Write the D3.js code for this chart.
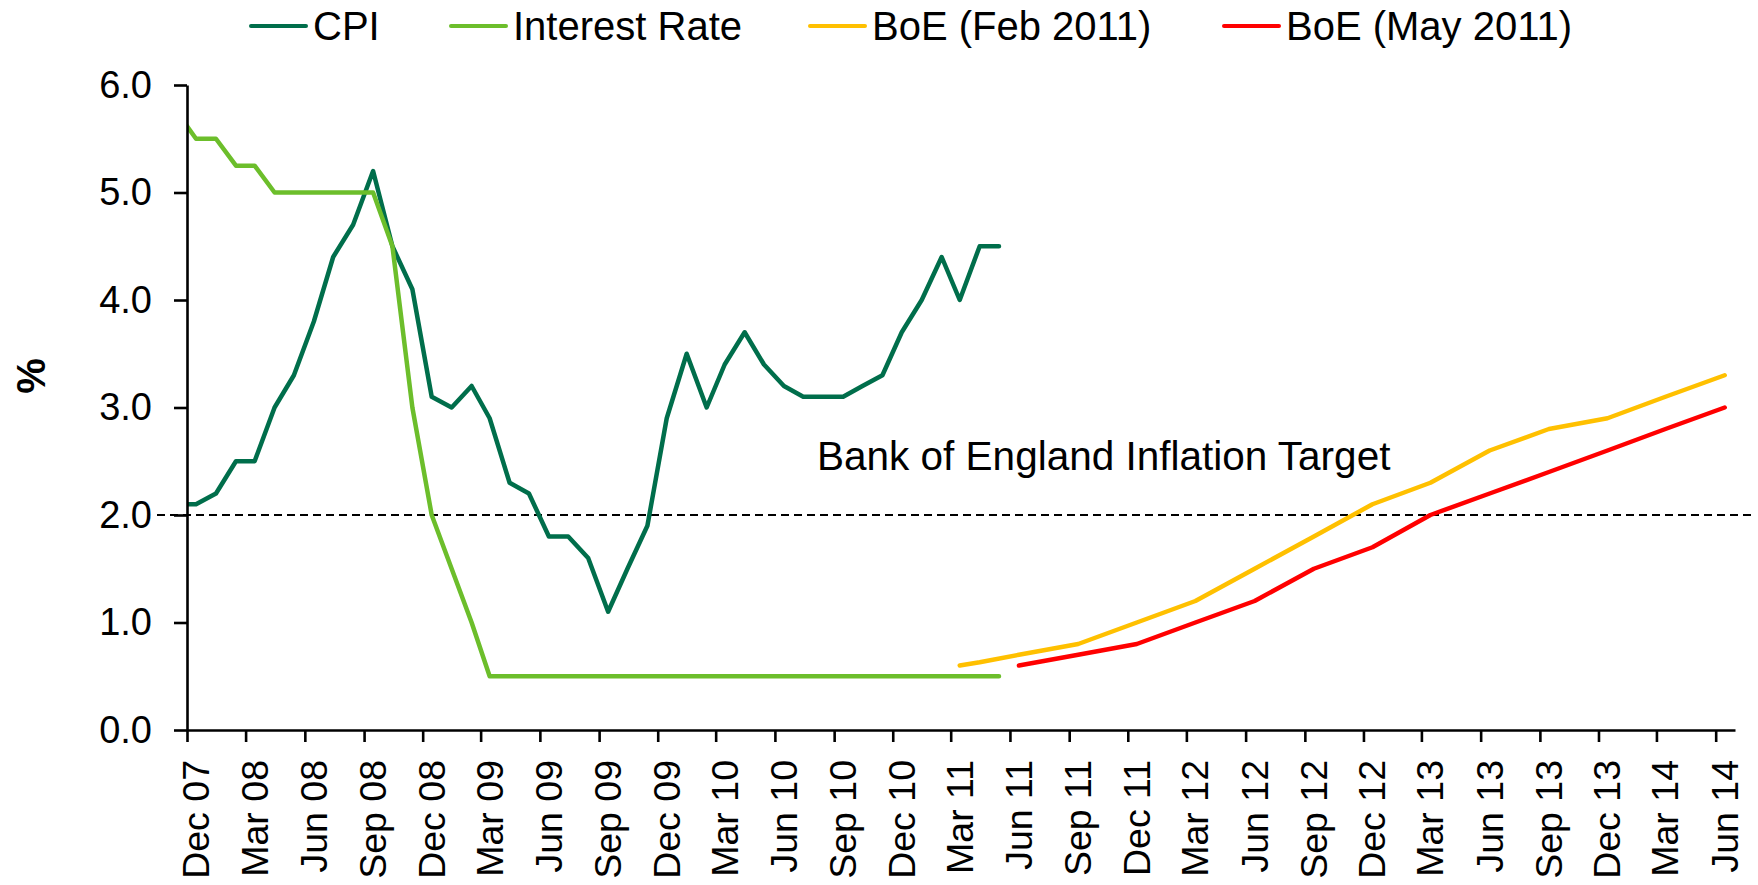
<!DOCTYPE html>
<html>
<head>
<meta charset="utf-8">
<script src="https://cdn.jsdelivr.net/npm/d3@7"></script>
<style>
  html, body { margin: 0; padding: 0; background: #fff; }
  svg { display: block; font-family: "Liberation Sans", Arial, sans-serif; }
</style>
</head>
<body>
<svg id="chart" width="1758" height="885"></svg>
<script>
// Monthly observations (plotted mid-month)
const months = [
  "Nov 07","Dec 07",
  "Jan 08","Feb 08","Mar 08","Apr 08","May 08","Jun 08","Jul 08","Aug 08","Sep 08","Oct 08","Nov 08","Dec 08",
  "Jan 09","Feb 09","Mar 09","Apr 09","May 09","Jun 09","Jul 09","Aug 09","Sep 09","Oct 09","Nov 09","Dec 09",
  "Jan 10","Feb 10","Mar 10","Apr 10","May 10","Jun 10","Jul 10","Aug 10","Sep 10","Oct 10","Nov 10","Dec 10",
  "Jan 11","Feb 11","Mar 11","Apr 11","May 11"
];
const cpi = [
  2.1, 2.1,
  2.2, 2.5, 2.5, 3.0, 3.3, 3.8, 4.4, 4.7, 5.2, 4.5, 4.1, 3.1,
  3.0, 3.2, 2.9, 2.3, 2.2, 1.8, 1.8, 1.6, 1.1, 1.5, 1.9, 2.9,
  3.5, 3.0, 3.4, 3.7, 3.4, 3.2, 3.1, 3.1, 3.1, 3.2, 3.3, 3.7,
  4.0, 4.4, 4.0, 4.5, 4.5
];
const interestRate = [
  5.75, 5.5,
  5.5, 5.25, 5.25, 5.0, 5.0, 5.0, 5.0, 5.0, 5.0, 4.5, 3.0, 2.0,
  1.5, 1.0, 0.5, 0.5, 0.5, 0.5, 0.5, 0.5, 0.5, 0.5, 0.5, 0.5,
  0.5, 0.5, 0.5, 0.5, 0.5, 0.5, 0.5, 0.5, 0.5, 0.5, 0.5, 0.5,
  0.5, 0.5, 0.5, 0.5, 0.5
];

// Bank of England projections
const boeFebMonths = ["Mar 11","Apr 11","Jun 11","Sep 11","Dec 11","Mar 12","Jun 12","Sep 12","Dec 12","Mar 13","Jun 13","Sep 13","Dec 13","Mar 14","Jun 14"];
const boeFeb = [0.6, 0.63, 0.7, 0.8, 1.0, 1.2, 1.5, 1.8, 2.1, 2.3, 2.6, 2.8, 2.9, 3.1, 3.3];
const boeMayMonths = ["Jun 11","Sep 11","Dec 11","Mar 12","Jun 12","Sep 12","Dec 12","Mar 13","Jun 13","Sep 13","Dec 13","Mar 14","Jun 14"];
const boeMay = [0.6, 0.7, 0.8, 1.0, 1.2, 1.5, 1.7, 2.0, 2.2, 2.4, 2.6, 2.8, 3.0];

// Axes
const xTickLabels = [
  "Dec 07","Mar 08","Jun 08","Sep 08","Dec 08","Mar 09","Jun 09","Sep 09","Dec 09",
  "Mar 10","Jun 10","Sep 10","Dec 10","Mar 11","Jun 11","Sep 11","Dec 11",
  "Mar 12","Jun 12","Sep 12","Dec 12","Mar 13","Jun 13","Sep 13","Dec 13","Mar 14","Jun 14"
];
const xDomainLabels = ["Dec 07", "Jul 14"];
const yTicks = [0, 1, 2, 3, 4, 5, 6];
const yTitle = "%";

const inflationTarget = 2.0;
const targetLabel = "Bank of England Inflation Target";

const seriesNames = ["CPI", "Interest Rate", "BoE (Feb 2011)", "BoE (May 2011)"];
const seriesColors = ["#006E4B", "#6CBE2B", "#FFC000", "#FF0000"];

// ---------------------------------------------------------------
const svg = d3.select("#chart");
const plot = { left: 187, right: 1735, top: 85, bottom: 730 };

const parseMonth = d3.timeParse("%b %y");
const midMonth = s => d3.timeDay.offset(parseMonth(s), 14);

const x = d3.scaleTime()
  .domain(xDomainLabels.map(parseMonth))
  .range([plot.left, plot.right]);
const y = d3.scaleLinear()
  .domain([0, 6])
  .range([plot.bottom, plot.top]);

// Clip lines to the plotting area
svg.append("defs").append("clipPath").attr("id", "plotClip")
  .append("rect")
  .attr("x", plot.left).attr("y", 0)
  .attr("width", plot.right - plot.left).attr("height", plot.bottom);

// Target line
svg.append("line")
  .attr("x1", 157).attr("x2", 1755)
  .attr("y1", y(inflationTarget)).attr("y2", y(inflationTarget))
  .attr("stroke", "#000").attr("stroke-width", 2)
  .attr("stroke-dasharray", "8,5");

svg.append("text")
  .attr("x", 817).attr("y", 470)
  .attr("font-size", 40.5).attr("fill", "#000")
  .text(targetLabel);

// Series lines
const line = d3.line().x(d => x(d.date)).y(d => y(d.value));
const series = [
  { dates: months, values: cpi },
  { dates: months, values: interestRate },
  { dates: boeFebMonths, values: boeFeb },
  { dates: boeMayMonths, values: boeMay }
];
const lineLayer = svg.append("g").attr("clip-path", "url(#plotClip)");
series.forEach((s, i) => {
  const pts = s.values.map((v, j) => ({ date: midMonth(s.dates[j]), value: v }));
  lineLayer.append("path")
    .datum(pts)
    .attr("d", line)
    .attr("fill", "none")
    .attr("stroke", seriesColors[i])
    .attr("stroke-width", 4.5)
    .attr("stroke-linejoin", "round")
    .attr("stroke-linecap", "round");
});

// Y axis
const yAxis = svg.append("g")
  .attr("transform", `translate(${plot.left},0)`)
  .call(d3.axisLeft(y).tickValues(yTicks).tickFormat(d3.format(".1f"))
    .tickSize(13).tickSizeOuter(0).tickPadding(22));
yAxis.select(".domain").attr("stroke", "#000").attr("stroke-width", 2.6);
yAxis.selectAll(".tick line").attr("stroke", "#000").attr("stroke-width", 2.6);
yAxis.selectAll(".tick text")
  .attr("font-size", 38).attr("fill", "#000")
  .attr("font-family", "Liberation Sans, Arial, sans-serif");

// X axis
const xAxis = svg.append("g")
  .attr("transform", `translate(0,${plot.bottom})`)
  .call(d3.axisBottom(x).tickValues(xTickLabels.map(parseMonth))
    .tickSize(12).tickSizeOuter(0).tickFormat(""));
xAxis.select(".domain").attr("stroke", "#000").attr("stroke-width", 2.6);
xAxis.selectAll(".tick line").attr("stroke", "#000").attr("stroke-width", 2.6);

svg.append("g").selectAll("text")
  .data(xTickLabels)
  .join("text")
  .attr("transform", d => `translate(${x(parseMonth(d))},760) rotate(-90)`)
  .attr("y", 22)
  .attr("text-anchor", "end")
  .attr("font-size", 37.5)
  .attr("fill", "#000")
  .text(d => d);

// Y axis title
svg.append("text")
  .attr("transform", "translate(31,376) rotate(-90)")
  .attr("text-anchor", "middle")
  .attr("dominant-baseline", "central")
  .attr("font-size", 40)
  .attr("font-weight", "bold")
  .attr("fill", "#000")
  .text(yTitle);

// Legend
const legendX = [250, 450, 809, 1223];
const legend = svg.append("g");
seriesNames.forEach((name, i) => {
  const g = legend.append("g").attr("transform", `translate(${legendX[i]},0)`);
  g.append("line")
    .attr("x1", 1).attr("x2", 56).attr("y1", 26).attr("y2", 26)
    .attr("stroke", seriesColors[i]).attr("stroke-width", 4)
    .attr("stroke-linecap", "round");
  g.append("text")
    .attr("x", 63).attr("y", 40)
    .attr("font-size", 40).attr("fill", "#000")
    .text(name);
});
</script>
</body>
</html>
